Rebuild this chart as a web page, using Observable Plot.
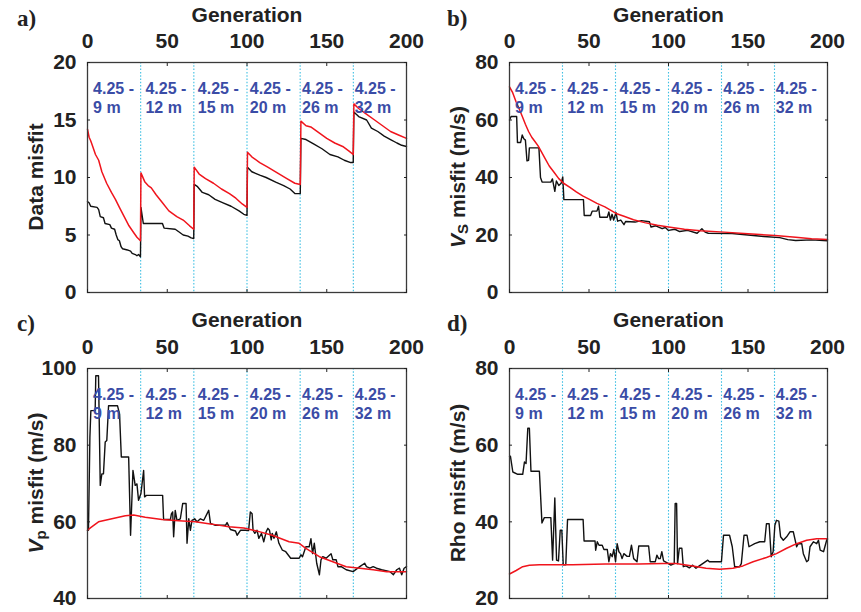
<!DOCTYPE html>
<html>
<head>
<meta charset="utf-8">
<script src="https://cdn.jsdelivr.net/npm/d3@7"></script>
<script src="https://cdn.jsdelivr.net/npm/@observablehq/plot@0.6"></script>
<style>
  html, body { margin: 0; padding: 0; background: #fff; }
  #wrap { position: relative; width: 861px; height: 612px; background: #fff; overflow: hidden; }
  .panel { position: absolute; }
  .tag { position: absolute; font-family: "Liberation Serif", "Times New Roman", serif; font-weight: bold; font-size: 23px; color: #222; line-height: 1; }
</style>
</head>
<body>
<div id="wrap"></div>
<script>
// ---------- data ----------
const genTicks = [0, 50, 100, 150, 200];
const boundaries = [33.33, 66.67, 100, 133.33, 166.67];
const bandLabels = ["4.25 -\n9 m", "4.25 -\n12 m", "4.25 -\n15 m", "4.25 -\n20 m", "4.25 -\n26 m", "4.25 -\n32 m"];
const bandLabelGen = [3.5, 36.3, 69.2, 101.8, 134.5, 167.5];

const dataMisfitBlack = [[0,7.9],[1,7.8],[2,7.5],[6,7.4],[7,7.2],[8,6.6],[10,6.5],[11,6.0],[14,5.9],[15,5.6],[17,5.5],[18,5.0],[19,4.6],[20,4.5],[21,4.0],[22,3.8],[25,3.7],[27,3.6],[28,3.4],[30,3.3],[31,3.2],[32,3.3],[33.2,3.1],
[33.5,7.4],[35,6.0],[47,6.0],[48,5.6],[55,5.5],[57,5.3],[60,5.0],[63,4.9],[65,4.75],[66.6,4.7],
[66.9,9.4],[69,9.2],[72,8.7],[76,8.5],[80,8.1],[85,7.8],[90,7.5],[95,7.1],[98,6.8],[100,6.7],
[100.3,10.9],[103,10.5],[108,10.2],[112,10.0],[118,9.6],[123,9.3],[127,9.0],[130,8.6],[133.4,8.6],
[133.8,13.4],[137,13.3],[142,12.9],[147,12.5],[152,12.0],[157,11.8],[161,11.5],[165,11.3],[166.6,11.3],
[167,15.7],[170,15.3],[175,15.0],[178,14.3],[182,14.0],[186,13.6],[190,13.3],[194,13.0],[197,12.8],[200,12.7]];
const dataMisfitRed = [[0,14.2],[1,13.5],[2,13.2],[3,12.8],[5,12.0],[7,11.5],[9,10.5],[12,9.5],[15,8.7],[17.5,8.1],[20,7.4],[23,6.6],[26,5.8],[29,5.2],[31,4.8],[33.2,4.5],
[33.5,10.4],[36,9.6],[38,9.3],[40,9.1],[43,8.5],[47,7.8],[51,7.1],[56,6.6],[60,6.3],[64,5.8],[66.6,5.5],
[66.9,10.9],[70,10.3],[74,9.9],[79,9.5],[84,9.0],[89,8.6],[93,8.2],[97,7.7],[100,7.4],
[100.3,12.2],[103,11.8],[108,11.3],[113,10.9],[119,10.4],[125,9.9],[130,9.5],[133.4,9.4],
[133.8,14.9],[137,14.5],[140,14.4],[145,13.9],[150,13.4],[155,13.0],[160,12.7],[164,12.3],[166.6,12.0],
[167,16.4],[170,16.0],[174,15.6],[180,15.0],[185,14.5],[190,14.0],[195,13.7],[200,13.4]];

const vsBlack = [[0,60],[1,61.2],[4.5,61.2],[5,52.2],[7,52.2],[8,54.8],[9,53.5],[10,53],[11,45.8],[12,46],[12.5,50.3],[18.5,50.3],[19.5,40],[20.5,38.4],[26,38.4],[27,39.5],[28.5,35.2],[29.5,38.8],[31,37.2],[32.5,38],[33.5,40.2],[34.2,32.3],[46.5,32.3],[47,26.8],[51,26.8],[52,28.3],[55,28.3],[56,30],[56.8,26.2],[61.5,26.2],[62.5,28],[63.5,25.2],[64.5,27.2],[65.5,25.2],[67,27.8],[68,24.8],[70,25.2],[72,23.6],[73,24.7],[79,24.5],[83,25],[88,24.6],[89,22.8],[92,23.2],[96,22.2],[98,22.6],[100,21.6],[104,22],[107,21.2],[112,21.6],[118,20.6],[121,22.2],[123,21],[125,20.6],[140,20.5],[150,20],[160,19.5],[170,19.1],[175,18.4],[180,18.1],[190,18.3],[200,18]];
const vsRed = [[0,71.5],[2,69.5],[4,66.5],[6,64],[8,61.3],[10,58.5],[12,56],[14,54],[16,52.5],[18,51],[20,49],[22.5,46.5],[25,44],[28,41.8],[31,39.6],[34,38],[38,36.6],[42,35],[46,33.6],[50,32.5],[55,31],[60,29.8],[67,27.5],[72,26.5],[78,25.3],[85,24.3],[93,23.4],[100,22.8],[110,22],[120,21.5],[135,21],[150,20.4],[167,19.8],[180,19.2],[190,18.7],[200,18.4]];

const vpBlack = [[0,57.8],[0.6,57.8],[1.5,82],[2.1,89],[4.8,89],[5.2,98.1],[6.9,98.1],[8,69.5],[9,72.5],[10,72.5],[11.1,80.8],[12.1,81.2],[13.2,90.3],[18.8,90.3],[20.1,88.1],[21.2,76.9],[25.8,76.9],[27,56.5],[28.5,73.4],[29.9,69.5],[31,69.9],[32,65.6],[33.5,67.4],[35.2,73.4],[35.8,66.5],[36.9,66.9],[47.1,66.9],[47.7,60.6],[52,60.6],[52.6,62.1],[53.4,62.6],[54,56.1],[55,63],[56.1,60.4],[58.2,60.8],[59.7,64.8],[61.8,64.8],[62.4,54.4],[63.5,60.8],[64.5,57.8],[65.5,60.4],[67.2,60.8],[68.7,60],[70.8,60.8],[72.9,60.4],[76,63],[77.1,59.6],[80.2,59.1],[86.5,59.1],[87.5,59.8],[89.6,58],[92.8,57.6],[93.8,56.5],[95.9,57.8],[98.9,57.8],[101,57.7],[102.1,62.6],[103.2,62.1],[103.8,57.8],[104.9,57],[106.3,57.8],[107.4,55.7],[109.1,57],[110.5,54.8],[112,57.4],[113.1,58.3],[114.1,57.8],[115.2,55.3],[115.8,57],[116.9,55.7],[118.4,57.4],[120,54.4],[122.2,52.6],[124.3,52.2],[127.4,50.5],[132.7,50.5],[133.8,51.4],[134.8,50.9],[136.9,53.5],[139,53.5],[140.1,55.6],[141.1,51.7],[142.2,54.4],[143.7,49.2],[145.4,46.2],[146.4,50.1],[147.5,50.9],[149.6,50.5],[152.7,51.7],[153.8,50.1],[155.9,50.1],[157,48.3],[159.1,48.3],[162.2,47.5],[166.5,47],[170.7,48.3],[173.8,49.2],[174.9,48.3],[177,47.9],[179.1,48.3],[181.2,47.9],[184.4,47.5],[189.7,47],[191.8,46.2],[193.9,47.5],[195.6,47.9],[197,46.2],[198.5,47.9],[200,48.3]];
const vpRed = [[0,57.8],[2,58.5],[6.9,60],[15.3,60.8],[23.7,61.6],[28.9,61.8],[36.2,61.2],[46.7,60.6],[57.2,60.3],[67.6,60],[78.1,59.4],[88.6,58.7],[98,58.4],[105.3,57.7],[115.8,56.5],[126.4,54.8],[132.7,54.4],[136.9,53.1],[145.4,50.9],[153.8,49.6],[162.2,48.3],[170.7,47.9],[179.1,47.5],[187.6,47],[200,47]];

const rhoBlack = [[0,57.1],[0.6,57.1],[2.1,53],[5.2,52.4],[8.3,52.4],[9.4,55.6],[10.4,55.2],[11.5,64.4],[12.5,64.4],[13.5,53.2],[18.8,53.2],[20.4,39.7],[21.9,41.1],[26,41.1],[27.1,30],[28.5,46.2],[29.6,30],[30.8,29.8],[31.9,37.8],[32.9,37.8],[33.8,28.8],[35.4,28.8],[36.5,40.6],[46.3,40.6],[46.9,35],[53.8,35],[54.2,32.6],[55.2,34.8],[56.3,33.9],[58.3,33.9],[59.4,32.8],[61.5,32.8],[62.5,29.6],[63.5,31.7],[64.6,30.9],[65.6,32.8],[66.7,29.6],[67.7,34.3],[68.8,32.2],[69.8,31.7],[70.8,30.4],[71.9,31.7],[74,31],[75.4,31],[76.7,33.9],[78.1,30.4],[80.2,29.6],[81.3,33.7],[87.5,33.7],[88.5,29.6],[91.7,29.6],[92.7,31.3],[93.8,30.4],[94.8,30.4],[95.8,32.2],[96.9,29.8],[100,29.1],[101.5,28.7],[103.6,29.1],[104.2,44.8],[105.1,44.8],[105.7,29.1],[106.8,33.1],[108.4,33.1],[109.3,28.3],[111,28.5],[113.1,28],[115.2,28.7],[117.3,27.9],[119.4,28.5],[121.5,29.1],[124.7,30],[125.7,29.6],[130,29.6],[133.3,29.6],[134.6,36.5],[138.4,36.5],[140.1,33.5],[141.6,28.3],[144.7,28.3],[145.8,29.1],[147.5,36.5],[149.4,36.5],[150.6,33.5],[154.2,34.3],[157.4,34.8],[160.5,34.8],[161.6,39.5],[163.3,39.5],[164.6,30.9],[165.8,32.2],[166.9,39.1],[167.9,40.4],[169.4,40.2],[170.5,36.1],[172.2,35.2],[174.3,36.1],[176.4,37.4],[178.5,37.4],[180.6,33.5],[181.6,34.3],[183.8,34.3],[184.8,31.7],[186.9,29.6],[188,30],[189,33.5],[191.1,34.8],[193.2,34.3],[194.3,35.2],[195.4,32.6],[197.5,32.2],[199.6,35.4],[200,35.4]];
const rhoRed = [[0,26.4],[4.2,27.3],[8.3,28.3],[12.5,28.7],[18.8,28.8],[39.6,28.8],[60.4,29],[81.3,29],[96.9,29.1],[104.6,29.1],[115.2,28.5],[123.6,27.9],[132.1,27.6],[140.5,27.9],[146.8,28.5],[153.2,29.6],[161.6,30.7],[167.9,31.7],[174.3,33.1],[180.6,34.3],[186.9,35.2],[193.2,35.6],[200,35.6]];

// ---------- drawing ----------
const FONT = '"Liberation Sans", Arial, Helvetica, sans-serif';
const wrap = document.getElementById("wrap");

function panel({left, top, width, height, mL, mR, mT, mB, yDomain, yTicks, black, red, tag, ylabel}) {
  const labels = bandLabels.map((t, i) => ({x: bandLabelGen[i], t}));
  const chart = Plot.plot({
    width, height,
    marginLeft: mL, marginRight: mR, marginTop: mT, marginBottom: mB,
    x: {domain: [0, 200], ticks: genTicks},
    y: {domain: yDomain, ticks: yTicks},
    style: {fontFamily: FONT, fontWeight: "bold", fontSize: "21px", color: "#222", background: "white", overflow: "visible"},
    marks: [
      Plot.ruleX(boundaries, {stroke: "#3dbfe3", strokeWidth: 1.1, strokeDasharray: "1.5,1.8"}),
      Plot.line(black, {x: d => d[0], y: d => d[1], stroke: "#111", strokeWidth: 1.4}),
      Plot.line(red, {x: d => d[0], y: d => d[1], stroke: "#f0141c", strokeWidth: 1.5}),
      Plot.text(labels, {x: "x", text: "t", frameAnchor: "top", dy: 35, textAnchor: "start", lineAnchor: "middle", lineHeight: 1.15, fill: "#3a4ca6", fontSize: 16, fontWeight: "bold"}),
      Plot.frame({stroke: "#3a3a3a", strokeWidth: 1.3}),
      // inward tick marks on all four sides
      Plot.axisX({anchor: "top", ticks: genTicks, tickSize: -3, tickFormat: () => "", label: null}),
      Plot.axisX({anchor: "bottom", ticks: genTicks, tickSize: -3, tickFormat: () => "", label: null}),
      Plot.axisY({anchor: "left", ticks: yTicks, tickSize: -3, tickFormat: () => "", label: null}),
      Plot.axisY({anchor: "right", ticks: yTicks, tickSize: -3, tickFormat: () => "", label: null}),
      // tick labels
      Plot.axisX({anchor: "top", ticks: genTicks, tickSize: 0, tickPadding: 15, label: null, fontSize: 21}),
      Plot.axisY({anchor: "left", ticks: yTicks, tickSize: 0, tickPadding: 11, label: null, fontSize: 21}),
      Plot.text(["Generation"], {x: 100, text: d => d, frameAnchor: "top", dy: -(mT - 15), lineAnchor: "middle", fontSize: 21, fontWeight: "bold", fill: "#222"})
    ]
  });
  const div = document.createElement("div");
  div.className = "panel";
  div.style.left = left + "px";
  div.style.top = top + "px";
  div.appendChild(chart);
  wrap.appendChild(div);

  // y-axis title (with optional subscript)
  const svg = d3.select(chart.tagName.toLowerCase() === "svg" ? chart : chart.querySelector("svg"));
  const cx = mL - 52, cy = mT + (height - mT - mB) / 2;
  const t = svg.append("text")
    .attr("transform", `translate(${cx},${cy}) rotate(-90)`)
    .attr("text-anchor", "middle")
    .attr("dominant-baseline", "central")
    .attr("font-family", FONT).attr("font-weight", "bold").attr("font-size", 21).attr("fill", "#222");
  ylabel.forEach(part => {
    const s = t.append("tspan").text(part.text);
    if (part.italic) s.attr("font-style", "italic");
    if (part.sub) s.attr("font-size", 15).attr("dy", 5);
    if (part.after) s.attr("dy", -5);
  });

  const tg = document.createElement("div");
  tg.className = "tag";
  tg.textContent = tag;
  tg.style.left = (left + 17) + "px";
  tg.style.top = (top + 7) + "px";
  wrap.appendChild(tg);
}

panel({left: 0, top: 0, width: 430, height: 305, mL: 87, mR: 24, mT: 62, mB: 13,
  yDomain: [0, 20], yTicks: [0, 5, 10, 15, 20], black: dataMisfitBlack, red: dataMisfitRed, tag: "a)",
  ylabel: [{text: "Data misfit"}]});
panel({left: 430, top: 0, width: 431, height: 305, mL: 79, mR: 34, mT: 62, mB: 13,
  yDomain: [0, 80], yTicks: [0, 20, 40, 60, 80], black: vsBlack, red: vsRed, tag: "b)",
  ylabel: [{text: "V", italic: true}, {text: "S", sub: true}, {text: " misfit (m/s)", after: true}]});
panel({left: 0, top: 305, width: 430, height: 307, mL: 87, mR: 24, mT: 63, mB: 14,
  yDomain: [40, 100], yTicks: [40, 60, 80, 100], black: vpBlack, red: vpRed, tag: "c)",
  ylabel: [{text: "V", italic: true}, {text: "p", sub: true}, {text: " misfit (m/s)", after: true}]});
panel({left: 430, top: 305, width: 431, height: 307, mL: 79, mR: 34, mT: 63, mB: 14,
  yDomain: [20, 80], yTicks: [20, 40, 60, 80], black: rhoBlack, red: rhoRed, tag: "d)",
  ylabel: [{text: "Rho misfit (m/s)"}]});
</script>
</body>
</html>
